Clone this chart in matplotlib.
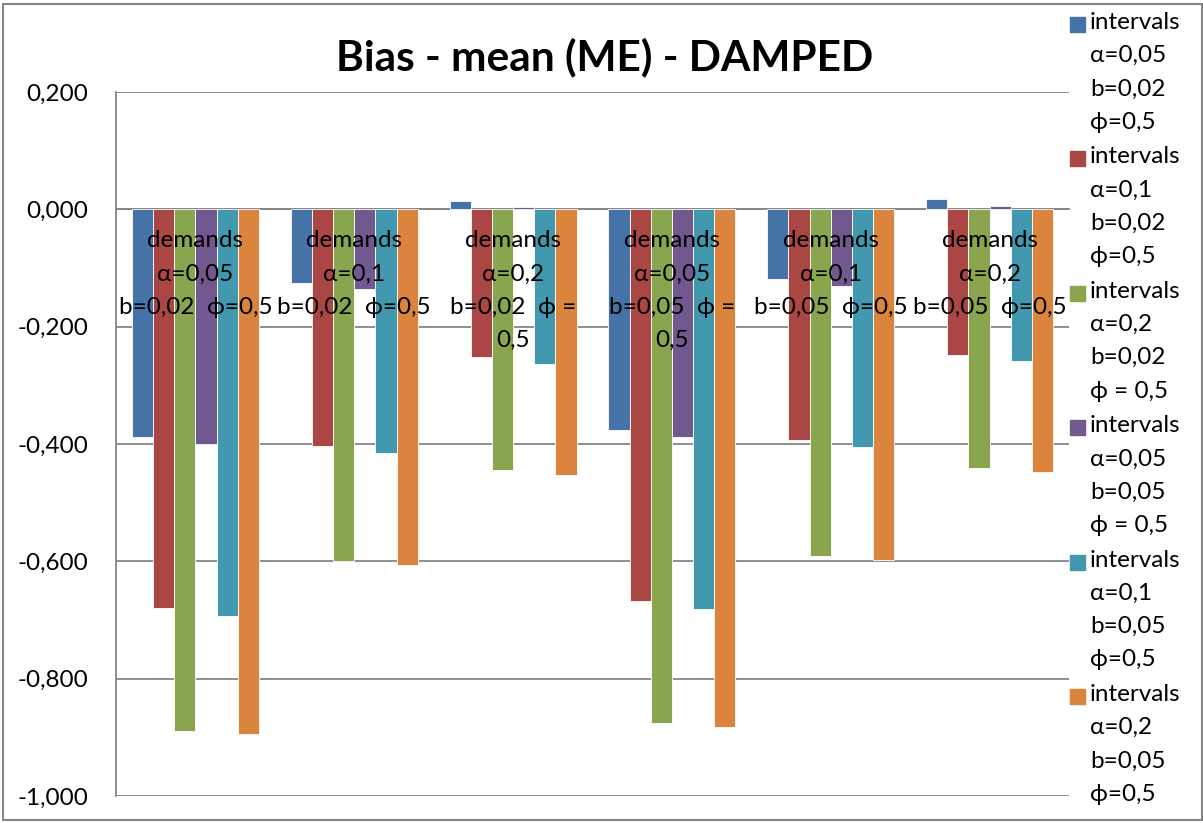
import numpy as np
import matplotlib
matplotlib.use('Agg')
import matplotlib.pyplot as plt
from matplotlib.patches import Rectangle

plt.rcParams['font.family'] = ['Lato', 'DejaVu Sans']

# Categorias (demands) e séries (intervals)
categories = [
    'demands\nα=0,05\nb=0,02  ϕ=0,5',
    'demands\nα=0,1\nb=0,02  ϕ=0,5',
    'demands\nα=0,2\nb=0,02  ϕ =\n0,5',
    'demands\nα=0,05\nb=0,05  ϕ =\n0,5',
    'demands\nα=0,1\nb=0,05  ϕ=0,5',
    'demands\nα=0,2\nb=0,05  ϕ=0,5',
]

series_labels = [
    'intervals\nα=0,05\nb=0,02\nϕ=0,5',
    'intervals\nα=0,1\nb=0,02\nϕ=0,5',
    'intervals\nα=0,2\nb=0,02\nϕ = 0,5',
    'intervals\nα=0,05\nb=0,05\nϕ = 0,5',
    'intervals\nα=0,1\nb=0,05\nϕ=0,5',
    'intervals\nα=0,2\nb=0,05\nϕ=0,5',
]

s1 = [-0.388, -0.126, 0.015, -0.376, -0.118, 0.018]
s2 = [-0.680, -0.404, -0.252, -0.668, -0.394, -0.249]
s3 = [-0.889, -0.600, -0.445, -0.876, -0.591, -0.441]
s4 = [-0.400, -0.136, 0.004, -0.388, -0.130, 0.006]
s5 = [-0.693, -0.416, -0.264, -0.681, -0.405, -0.259]
s6 = [-0.894, -0.607, -0.452, -0.882, -0.598, -0.448]
series = [s1, s2, s3, s4, s5, s6]

colors = ['#4572A7', '#AA4643', '#89A54E', '#71588F', '#4198AF', '#DB843D']

yticks = [0.2, 0.0, -0.2, -0.4, -0.6, -0.8, -1.0]

fig = plt.figure(figsize=(12.03, 8.23), dpi=100)
ax = fig.add_axes([0.0964, 0.0328, 0.7922, 0.8554])

x = np.arange(len(categories))
w = 0.8 / len(series)
for i, (vals, c) in enumerate(zip(series, colors)):
    ax.bar(x - 0.4 + w * (i + 0.5), vals, width=w, color=c,
           edgecolor='white', linewidth=0.6, zorder=3)

ax.set_ylim(-1.0, 0.2)
ax.set_xlim(-0.5, len(categories) - 0.5)
ax.set_yticks(yticks)
ax.set_yticklabels([f'{v:.3f}'.replace('.', ',') for v in yticks], fontsize=17.5)
ax.grid(axis='y', color='#868686', linewidth=1.3, zorder=0)
ax.tick_params(axis='y', length=0, pad=20)

# eixo das categorias cruza em 0
ax.spines['bottom'].set_position(('data', 0))
ax.spines['bottom'].set_color('#868686')
ax.spines['bottom'].set_linewidth(1.3)
ax.spines['left'].set_color('#868686')
ax.spines['left'].set_linewidth(1.3)
ax.spines['top'].set_visible(False)
ax.spines['right'].set_visible(False)

ax.set_xticks(x)
ax.set_xticklabels(categories, fontsize=17.5, linespacing=1.72)
ax.tick_params(axis='x', length=0, pad=15)
ax.xaxis.set_zorder(5)

# Título
fig.text(0.503, 0.93, 'Bias - mean (ME) - DAMPED', ha='center', va='center',
         fontsize=30.5, fontweight='bold')

# Legenda manual à direita
for i, (lab, c) in enumerate(zip(series_labels, colors)):
    ytop = 1 - (12 + i * 134.4) / 823
    fig.patches.append(Rectangle((1070 / 1203, ytop - 20 / 823), 15 / 1203, 15 / 823,
                                 transform=fig.transFigure, color=c))
    fig.text(1090 / 1203, ytop, lab, ha='left', va='top', fontsize=17.5, linespacing=1.72)

# Borda da área do gráfico
fig.patches.append(Rectangle((3 / 1203, 3 / 823), 1 - 4 / 1203, 1 - 7 / 823,
                             transform=fig.transFigure, fill=False,
                             edgecolor='#868686', linewidth=1.5))

fig.savefig('out.png', dpi=100)
